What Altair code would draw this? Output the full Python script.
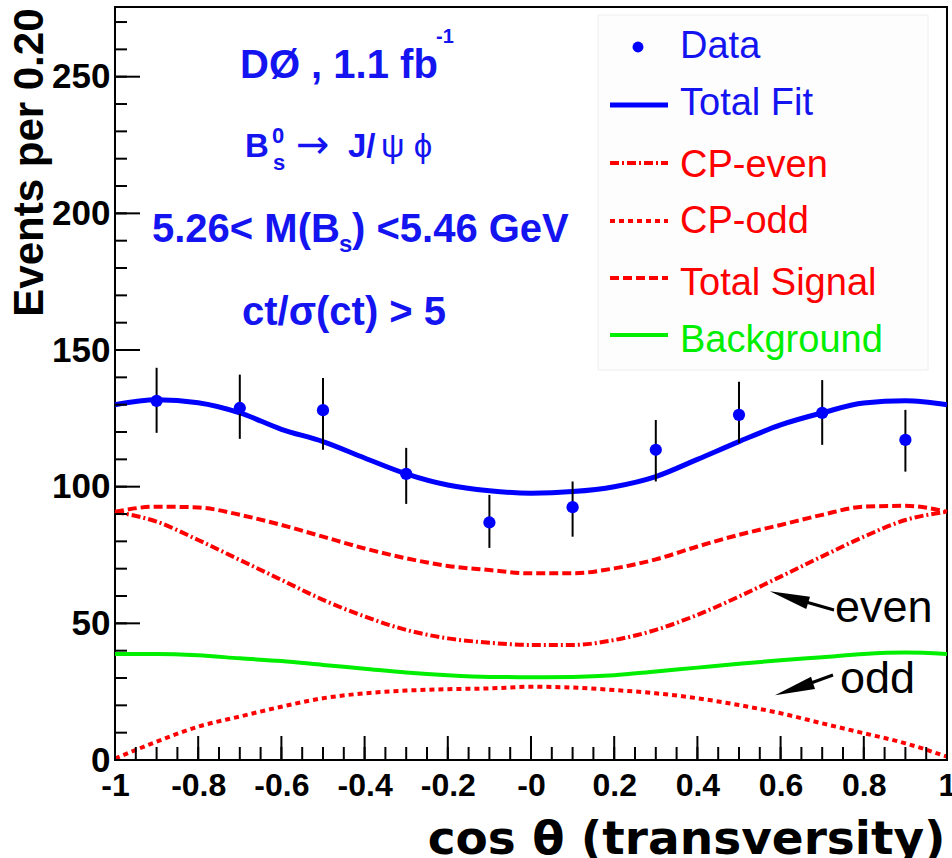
import altair as alt
import pandas as pd

# ---------------- data ----------------
fit_x = [-1.0, -0.9, -0.8, -0.7, -0.6, -0.5, -0.4, -0.3, -0.2, -0.1, 0.0,
         0.1, 0.2, 0.3, 0.4, 0.5, 0.6, 0.7, 0.8, 0.9, 1.0]
total_fit = [130.0, 131.8, 130.7, 127.0, 121.0, 116.5, 110.5, 104.7, 100.6, 98.5, 97.6,
             98.2, 100.0, 103.7, 110.0, 116.5, 122.6, 127.0, 130.6, 131.4, 130.0]
total_signal = [90.8, 92.7, 92.4, 89.7, 86.0, 81.7, 77.4, 73.8, 71.0, 69.5, 68.3,
                68.3, 70.1, 73.4, 78.1, 82.4, 86.0, 89.7, 92.7, 93.0, 90.8]
cp_even = [90.8, 87.2, 80.5, 73.2, 65.9, 58.6, 52.5, 47.6, 44.5, 42.9, 42.1,
           42.1, 43.9, 47.6, 53.1, 59.8, 67.1, 74.5, 81.7, 87.8, 90.8]
cp_odd = [0.5, 6.7, 12.2, 15.9, 19.5, 22.6, 24.4, 25.4, 25.9, 26.2, 26.8,
          26.5, 25.6, 24.4, 22.6, 20.1, 17.1, 13.4, 9.8, 6.1, 1.2]
background = [38.8, 38.8, 38.3, 37.2, 36.2, 34.8, 33.4, 32.0, 31.0, 30.4, 30.3,
              30.4, 31.0, 32.4, 33.8, 35.2, 36.5, 37.6, 38.8, 39.3, 38.8]

data_x = [-0.9, -0.7, -0.5, -0.3, -0.1, 0.1, 0.3, 0.5, 0.7, 0.9]
data_y = [131.4, 128.8, 128.0, 104.7, 86.9, 92.5, 113.5, 126.3, 127.0, 117.1]
data_lo = [119.7, 117.5, 113.5, 93.7, 77.6, 81.7, 101.9, 116.0, 115.3, 105.5]
data_hi = [143.5, 141.0, 139.8, 114.2, 97.0, 101.9, 124.4, 138.4, 139.0, 128.1]

legend_labels = ["Data", "Total Fit", "CP-even", "CP-odd", "Total Signal", "Background"]

y_major = [0, 50, 100, 150, 200, 250]
y_minor = [0, 10, 20, 30, 40, 50, 60, 70, 80, 90, 100, 110, 120, 130, 140, 150, 160,
           170, 180, 190, 200, 210, 220, 230, 240, 250, 260, 270]
x_major = [-1.0, -0.8, -0.6, -0.4, -0.2, 0.0, 0.2, 0.4, 0.6, 0.8, 1.0]
x_minor = [-1.0, -0.95, -0.9, -0.85, -0.8, -0.75, -0.7, -0.65, -0.6, -0.55, -0.5,
           -0.45, -0.4, -0.35, -0.3, -0.25, -0.2, -0.15, -0.1, -0.05, 0.0,
           0.05, 0.1, 0.15, 0.2, 0.25, 0.3, 0.35, 0.4, 0.45, 0.5,
           0.55, 0.6, 0.65, 0.7, 0.75, 0.8, 0.85, 0.9, 0.95, 1.0]

# ---------------- layout / style ----------------
W, H = 832, 753
OX, OY = 115, 7
BLUE = "#0000ff"
TBLUE = "#1414f0"
RED = "#ff0000"
GREEN = "#00ee00"
FS = "Liberation Sans"

xs = alt.Scale(domain=[-1, 1], nice=False, zero=False)
ys = alt.Scale(domain=[0, 275.5], nice=False, zero=False)

one = pd.DataFrame({"k": [0]})

x_axis = alt.Axis(
    values=x_major,
    labelExpr="(datum.value <= 0 ? '-' : '') + format(abs(datum.value), '~g')",
    labelFont=FS, labelFontWeight="bold", labelFontSize=32, labelColor="black",
    labelPadding=10, labelFlush=False, labelOverlap=False, labelBound=False,
    ticks=False, tickSize=0, domain=False, grid=False,
    title="cos θ (transversity)", titleFont="DejaVu Sans", titleFontWeight="bold",
    titleFontSize=47, titleColor="black", titleAnchor="end", titleAlign="right",
    titleBaseline="alphabetic", titleX=830, titleY=93,
)
y_axis = alt.Axis(
    values=y_major, format="d",
    labelFont=FS, labelFontWeight="bold", labelFontSize=35, labelColor="black",
    labelPadding=5, labelOverlap=False,
    ticks=False, tickSize=0, domain=False, grid=False,
    title="Events per 0.20", titleFont=FS, titleFontWeight="bold", titleFontSize=42,
    titleColor="black", titleAngle=270, titleAlign="right", titleBaseline="alphabetic",
    titleX=-73, titleY=1,
)


def X(field):
    return alt.X(field, scale=xs, axis=x_axis)


def Y(field):
    return alt.Y(field, scale=ys, axis=y_axis)


def curve(values, color, width, dash=None):
    df = pd.DataFrame({"x": fit_x, "y": values})
    kw = dict(color=color, strokeWidth=width, interpolate="monotone")
    if dash:
        kw["strokeDash"] = dash
    return alt.Chart(df).mark_line(**kw).encode(x=X("x:Q"), y=Y("y:Q"))


layers = []
layers.append(curve(background, GREEN, 4))
layers.append(curve(cp_odd, RED, 4, [5, 4]))
layers.append(curve(cp_even, RED, 4, [9, 3, 2, 3]))
layers.append(curve(total_signal, RED, 4, [9, 4]))
layers.append(curve(total_fit, BLUE, 5))

pts = pd.DataFrame({"x": data_x, "y": data_y, "lo": data_lo, "hi": data_hi})
layers.append(
    alt.Chart(pts).mark_rule(color="black", strokeWidth=2).encode(
        x=X("x:Q"), y=Y("lo:Q"), y2="hi:Q")
)
layers.append(
    alt.Chart(pts).mark_circle(color=BLUE, opacity=1, size=150).encode(
        x=X("x:Q"), y=Y("y:Q"))
)


# inward ticks
def yticks(vals, length):
    return alt.Chart(pd.DataFrame({"y": vals})).mark_rule(color="black", strokeWidth=2).encode(
        y=Y("y:Q"), x=alt.value(0), x2=alt.value(length))


def xticks(vals, length):
    return alt.Chart(pd.DataFrame({"x": vals})).mark_rule(color="black", strokeWidth=2).encode(
        x=X("x:Q"), y=alt.value(H), y2=alt.value(H - length))


layers += [yticks(y_minor, 12), yticks(y_major, 25), xticks(x_minor, 13), xticks(x_major, 24)]


def text(s, px, py, size, color, font=FS, weight="normal", align="left", baseline="alphabetic"):
    return alt.Chart(one).mark_text(
        text=s, font=font, fontSize=size, fontWeight=weight, color=color,
        align=align, baseline=baseline,
    ).encode(x=alt.value(px - OX), y=alt.value(py - OY))


# annotations (blue)
layers += [
    text("DØ , 1.1 fb", 240, 78, 40, TBLUE, weight="bold"),
    text("-1", 436, 43, 20, TBLUE, weight="bold"),
    text("B", 245, 157, 33, TBLUE, weight="bold"),
    text("0", 272, 143, 22, TBLUE, weight="bold"),
    text("s", 273, 170, 22, TBLUE, weight="bold"),
    text("→", 296, 158, 40, TBLUE, font="DejaVu Sans"),
    text("J/", 348, 157, 33, TBLUE, weight="bold"),
    text("ψ ϕ", 381, 157, 33, TBLUE, font="Liberation Sans, DejaVu Sans"),
    text("5.26< M(B", 152, 242, 40, TBLUE, weight="bold"),
    text("s", 339, 252, 24, TBLUE, weight="bold"),
    text(") <5.46 GeV", 352, 242, 40, TBLUE, weight="bold"),
    text("ct/σ(ct) > 5", 242, 325, 40, TBLUE, weight="bold"),
]

# legend
layers.append(
    alt.Chart(one).mark_rect(fill="#fdfdfd", stroke="#eeeeee", strokeWidth=1).encode(
        x=alt.value(598 - OX), x2=alt.value(928 - OX), y=alt.value(15 - OY), y2=alt.value(370 - OY))
)
layers.append(
    alt.Chart(one).mark_circle(color=BLUE, opacity=1, size=120).encode(
        x=alt.value(638 - OX), y=alt.value(47 - OY))
)
leg_lines = [(105, BLUE, 5, None), (163, RED, 4, [9, 3, 2, 3]), (221, RED, 4, [5, 4]),
             (278, RED, 4, [9, 4]), (335, GREEN, 4, None)]
for yy, col, wdt, dash in leg_lines:
    kw = dict(color=col, strokeWidth=wdt)
    if dash:
        kw["strokeDash"] = dash
    layers.append(
        alt.Chart(one).mark_rule(**kw).encode(
            x=alt.value(610 - OX), x2=alt.value(668 - OX), y=alt.value(yy - OY))
    )
leg_base = [58, 115, 177, 233, 295, 352]
leg_cols = [TBLUE, TBLUE, RED, RED, RED, GREEN]
for lab, yy, col in zip(legend_labels, leg_base, leg_cols):
    layers.append(text(lab, 680, yy, 38, col))

# "even" / "odd" arrows
arrow_shape = "M -1 0 L 1 -0.32 L 1 0.32 Z"
layers += [
    alt.Chart(one).mark_point(shape=arrow_shape, filled=True, color="black", opacity=1,
                              size=1600, angle=17, strokeWidth=0).encode(
        x=alt.value(789 - OX), y=alt.value(597 - OY)),
    alt.Chart(one).mark_rule(color="black", strokeWidth=3).encode(
        x=alt.value(806 - OX), y=alt.value(602 - OY), x2=alt.value(834 - OX), y2=alt.value(610 - OY)),
    alt.Chart(one).mark_point(shape=arrow_shape, filled=True, color="black", opacity=1,
                              size=1600, angle=342, strokeWidth=0).encode(
        x=alt.value(794 - OX), y=alt.value(689 - OY)),
    alt.Chart(one).mark_rule(color="black", strokeWidth=3).encode(
        x=alt.value(811 - OX), y=alt.value(683 - OY), x2=alt.value(833 - OX), y2=alt.value(675 - OY)),
    text("even", 835, 622, 45, "black"),
    text("odd", 840, 693, 45, "black"),
]

chart = alt.layer(*layers).properties(
    width=W, height=H,
    autosize=alt.AutoSizeParams(type="none"),
    padding={"left": OX, "top": OY, "right": 952 - OX - W, "bottom": 858 - OY - H},
    background="white",
).configure_view(stroke="black", strokeWidth=2)

chart.save("out.html", embed_options={"renderer": "svg", "actions": False})
